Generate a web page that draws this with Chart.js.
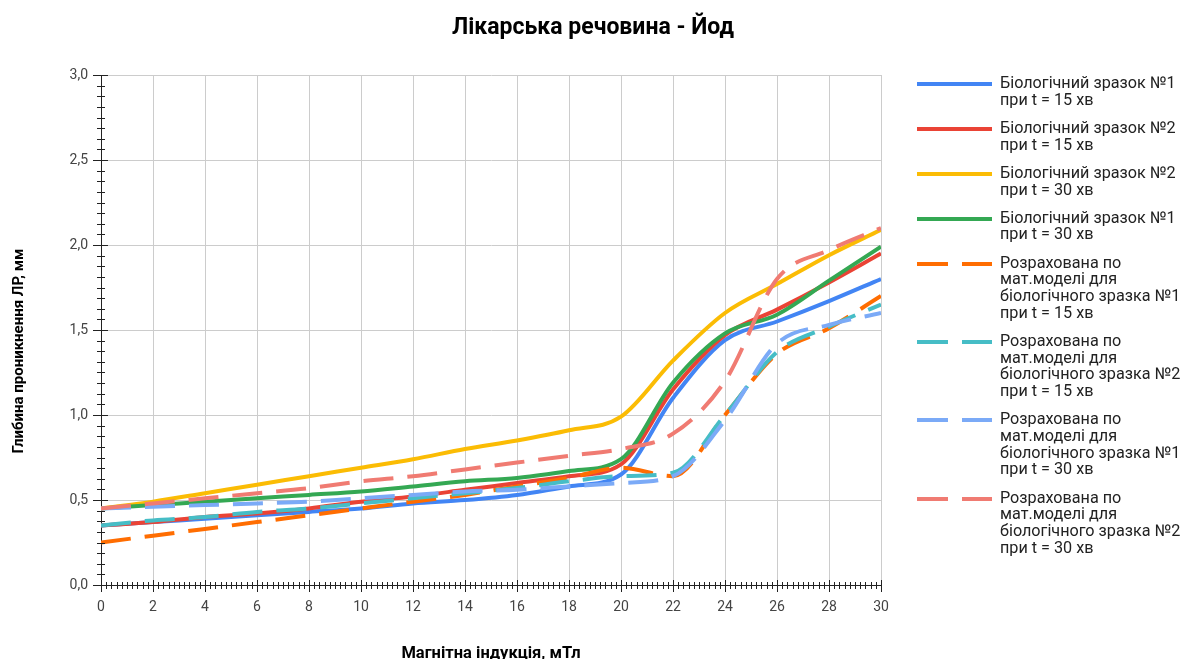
<!DOCTYPE html>
<html>
<head>
<meta charset="utf-8">
<script src="https://cdn.jsdelivr.net/npm/chart.js@4/dist/chart.umd.min.js"></script>
<style>
  html, body { margin: 0; padding: 0; background: #fff; }
  #wrap { position: relative; width: 1184px; height: 659px; overflow: hidden; font-family: Roboto, "Noto Sans", sans-serif; }
  #c { position: absolute; left: 0; top: 0; }
  #legend { position: absolute; left: 915px; top: 75px; width: 269px; }
  .item { position: relative; padding-left: 85px; margin-bottom: 11.5px; font-size: 16.2px; line-height: 16.7px; color: #222; white-space: nowrap; }
  .item svg { position: absolute; left: 2px; top: 6px; }
</style>
</head>
<body>
<div id="wrap">
  <canvas id="c" width="1184" height="659"></canvas>
  <div id="legend"></div>
</div>
<script>
// ---- Data ----
const chartTitle = "Лікарська речовина - Йод";
const xTitle = "Магнітна індукція, мТл";
const yTitle = "Глибина проникнення ЛР, мм";

const xValues = [0, 2, 4, 6, 8, 10, 12, 14, 16, 18, 20, 22, 24, 26, 28, 30];

const bio1_15 = [0.35, 0.37, 0.39, 0.41, 0.43, 0.45, 0.48, 0.50, 0.53, 0.58, 0.65, 1.10, 1.44, 1.55, 1.67, 1.80];
const bio2_15 = [0.35, 0.37, 0.40, 0.42, 0.45, 0.49, 0.52, 0.56, 0.60, 0.64, 0.71, 1.15, 1.47, 1.62, 1.78, 1.95];
const bio2_30 = [0.45, 0.49, 0.54, 0.59, 0.64, 0.69, 0.74, 0.80, 0.85, 0.91, 0.99, 1.32, 1.60, 1.77, 1.94, 2.09];
const bio1_30 = [0.45, 0.47, 0.49, 0.51, 0.53, 0.55, 0.58, 0.61, 0.63, 0.67, 0.74, 1.19, 1.48, 1.59, 1.79, 1.99];
const model1_15 = [0.25, 0.29, 0.33, 0.37, 0.41, 0.45, 0.49, 0.53, 0.58, 0.63, 0.69, 0.64, 1.00, 1.36, 1.51, 1.70];
const model2_15 = [0.35, 0.38, 0.40, 0.43, 0.45, 0.48, 0.51, 0.54, 0.57, 0.61, 0.64, 0.66, 1.00, 1.37, 1.52, 1.65];
const model1_30 = [0.45, 0.46, 0.47, 0.48, 0.49, 0.51, 0.53, 0.55, 0.56, 0.58, 0.60, 0.64, 0.97, 1.42, 1.53, 1.60];
const model2_30 = [0.45, 0.48, 0.51, 0.54, 0.57, 0.61, 0.64, 0.68, 0.72, 0.76, 0.80, 0.89, 1.20, 1.80, 1.97, 2.10];

const seriesLabels = [
  ["Біологічний зразок №1", "при t = 15 хв"],
  ["Біологічний зразок №2", "при t = 15 хв"],
  ["Біологічний зразок №2", "при t = 30 хв"],
  ["Біологічний зразок №1", "при t = 30 хв"],
  ["Розрахована по", "мат.моделі для", "біологічного зразка №1", "при t = 15 хв"],
  ["Розрахована по", "мат.моделі для", "біологічного зразка №2", "при t = 15 хв"],
  ["Розрахована по", "мат.моделі для", "біологічного зразка №1", "при t = 30 хв"],
  ["Розрахована по", "мат.моделі для", "біологічного зразка №2", "при t = 30 хв"]
];
const seriesValues = [bio1_15, bio2_15, bio2_30, bio1_30, model1_15, model2_15, model1_30, model2_30];
const seriesColors = ["#4285F4", "#EA4335", "#FBBC04", "#34A853", "#FF6D01", "#46BDC6", "#7BAAF7", "#F07B72"];
const seriesDashed = [false, false, false, false, true, true, true, true];

const yTickFmt = v => v.toFixed(1).replace('.', ',');

// ---- Chart ----
const FONT = "Roboto, 'Noto Sans', sans-serif";
const DASH = [30, 14];

const datasets = seriesValues.map((vals, i) => ({
  label: seriesLabels[i].join(' '),
  data: vals.map((v, j) => ({ x: xValues[j], y: v })),
  borderColor: seriesColors[i],
  backgroundColor: seriesColors[i],
  borderWidth: 4,
  borderDash: seriesDashed[i] ? DASH : [],
  pointRadius: 0,
  pointHoverRadius: 0,
  cubicInterpolationMode: 'monotone',
  fill: false,
  order: seriesValues.length - 1 - i
}));

const decor = {
  id: 'decor',
  afterDraw(chart) {
    const ctx = chart.ctx;
    const xs = chart.scales.x, ys = chart.scales.y;
    const x0 = xs.getPixelForValue(0), y0 = ys.getPixelForValue(0);
    ctx.save();
    ctx.strokeStyle = '#222';
    ctx.lineWidth = 1;
    ctx.beginPath();
    // x ticks
    for (let k = 0; k <= 150; k++) {
      const v = k * 0.2;
      const px = Math.round(xs.getPixelForValue(v)) + 0.5;
      const major = k % 10 === 0;
      ctx.moveTo(px, y0 - (major ? 5 : 3));
      ctx.lineTo(px, y0 + (major ? 7 : 4));
    }
    // y ticks
    for (let k = 0; k <= 48; k++) {
      const v = k * 0.0625;
      const py = Math.round(ys.getPixelForValue(v)) + 0.5;
      const major = k % 8 === 0;
      ctx.moveTo(x0 - (major ? 8 : 4), py);
      ctx.lineTo(x0 + (major ? 7 : 4), py);
    }
    ctx.stroke();
    // titles
    ctx.fillStyle = '#000';
    ctx.textAlign = 'center';
    ctx.textBaseline = 'middle';
    ctx.font = "bold 23px " + FONT;
    ctx.fillText(chartTitle, 593, 28);
    ctx.font = "bold 16.5px " + FONT;
    ctx.fillText(xTitle, (xs.left + xs.right) / 2, 654);
    ctx.translate(19, 351);
    ctx.rotate(-Math.PI / 2);
    ctx.font = "bold 15px " + FONT;
    ctx.fillText(yTitle, 0, 0);
    ctx.restore();
  }
};

new Chart(document.getElementById('c'), {
  type: 'line',
  data: { datasets },
  options: {
    responsive: false,
    animation: false,
    layout: { padding: { left: 0, right: 303, top: 75, bottom: 0 } },
    plugins: { legend: { display: false }, title: { display: false }, tooltip: { enabled: false } },
    scales: {
      x: {
        type: 'linear', min: 0, max: 30,
        ticks: { stepSize: 2, color: '#444', font: { family: FONT, size: 14 }, padding: 14, maxRotation: 0 },
        grid: { color: '#cccccc', drawTicks: false },
        border: { color: '#222', width: 1 },
        afterFit: s => { s.height = 74; }
      },
      y: {
        type: 'linear', min: 0, max: 3,
        ticks: { stepSize: 0.5, color: '#444', font: { family: FONT, size: 14 }, padding: 13, callback: v => yTickFmt(v) },
        grid: { color: '#cccccc', drawTicks: false },
        border: { color: '#222', width: 1 },
        afterFit: s => { s.width = 101; }
      }
    }
  },
  plugins: [decor]
});

// ---- HTML legend built from the series arrays ----
const legend = document.getElementById('legend');
seriesLabels.forEach((lines, i) => {
  const d = document.createElement('div');
  d.className = 'item';
  const dash = seriesDashed[i] ? ' stroke-dasharray="31 14"' : '';
  d.innerHTML = '<svg width="75" height="6"><line x1="0" y1="3" x2="75" y2="3" stroke="' + seriesColors[i] + '" stroke-width="4"' + dash + '/></svg>' +
    lines.map(t => '<div>' + t + '</div>').join('');
  legend.appendChild(d);
});
</script>
</body>
</html>
